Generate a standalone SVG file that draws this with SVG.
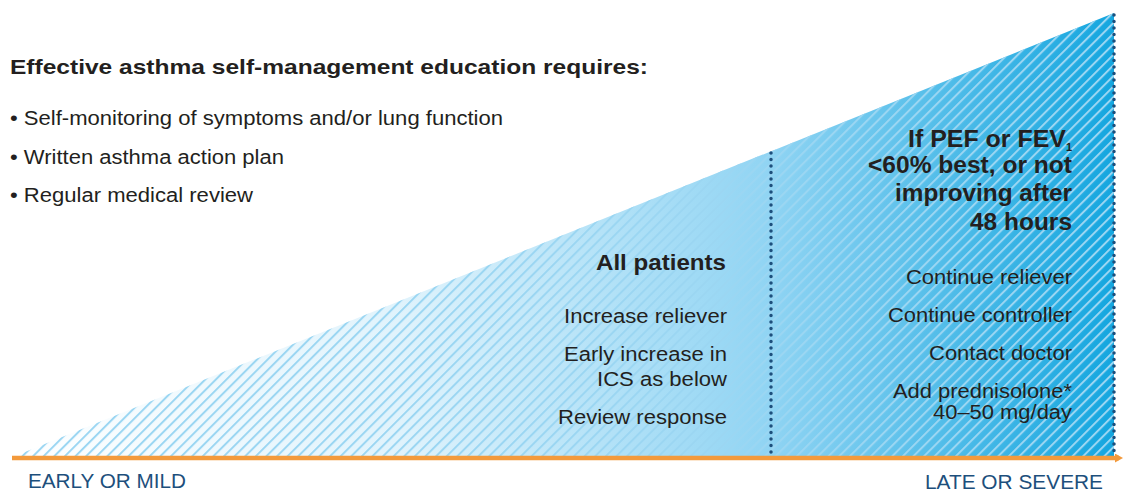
<svg xmlns="http://www.w3.org/2000/svg" width="1127" height="491" viewBox="0 0 1127 491">
<defs>
<style>
.t{font-family:"Liberation Sans",Arial,sans-serif;fill:#231f20;}
.b{font-weight:bold;}
.n{font-size:20px;}
.ax{font-family:"Liberation Sans",Arial,sans-serif;fill:#1d4f7c;font-size:20.5px;}
.dot{stroke:#1d4f7c;stroke-width:3.5;stroke-linecap:round;stroke-dasharray:0 6.5;fill:none;}
</style>
<linearGradient id="g" x1="15" y1="0" x2="1115" y2="0" gradientUnits="userSpaceOnUse">
<stop offset="0" stop-color="#ffffff"/>
<stop offset="0.35" stop-color="#e0f3fc"/>
<stop offset="0.686" stop-color="#90d4f3"/>
<stop offset="1" stop-color="#14a6df"/>
</linearGradient>
<pattern id="h" width="7.5" height="7.5" patternUnits="userSpaceOnUse" patternTransform="rotate(45)">
<line x1="1" y1="0" x2="1" y2="7.5" stroke="#9bd6f2" stroke-width="2"/>
</pattern>
<marker id="arr" markerWidth="8" markerHeight="9" refX="4" refY="4.5" orient="auto" markerUnits="userSpaceOnUse">
<path d="M0,0 L8,4.5 L0,9 Z" fill="#f39a3c"/>
</marker>
</defs>
<rect width="1127" height="491" fill="#ffffff"/>
<g id="wedge">
<path d="M15,456 L1114,13 L1114,456 Z" fill="url(#g)"/>
<path d="M15,456 L1114,13 L1114,456 Z" fill="url(#h)"/>
</g>
<g id="connectors">
<line class="dot" x1="771" y1="153" x2="771" y2="454"/>
<line class="dot" x1="1114" y1="15" x2="1114" y2="454"/>
<line x1="12" y1="458" x2="1119" y2="458" stroke="#f39a3c" stroke-width="4.5" marker-end="url(#arr)"/>
</g>
<g id="header">
<text class="t b" x="10" y="74" font-size="21" textLength="638" lengthAdjust="spacingAndGlyphs">Effective asthma self-management education requires:</text>
<text class="t" x="10" y="125" font-size="19.5" textLength="493" lengthAdjust="spacingAndGlyphs">• Self-monitoring of symptoms and/or lung function</text>
<text class="t" x="10" y="164" font-size="19.5" textLength="274" lengthAdjust="spacingAndGlyphs">• Written asthma action plan</text>
<text class="t" x="10" y="202" font-size="19.5" textLength="243" lengthAdjust="spacingAndGlyphs">• Regular medical review</text>
</g>
<g id="all-patients">
<text class="t b" x="596" y="270" font-size="22" textLength="130" lengthAdjust="spacingAndGlyphs">All patients</text>
<text class="t n" x="564" y="323" textLength="163" lengthAdjust="spacingAndGlyphs">Increase reliever</text>
<text class="t n" x="564" y="361" textLength="163" lengthAdjust="spacingAndGlyphs">Early increase in</text>
<text class="t n" x="597" y="386" textLength="130" lengthAdjust="spacingAndGlyphs">ICS as below</text>
<text class="t n" x="558" y="424" textLength="169" lengthAdjust="spacingAndGlyphs">Review response</text>
</g>
<g id="severe">
<text class="t b" x="908" y="147" font-size="23" textLength="158" lengthAdjust="spacingAndGlyphs">If PEF or FEV</text>
<text class="t b" x="1066" y="151" font-size="11">1</text>
<text class="t b" x="868" y="173" font-size="23" textLength="204" lengthAdjust="spacingAndGlyphs">&lt;60% best, or not</text>
<text class="t b" x="895" y="201" font-size="23" textLength="177" lengthAdjust="spacingAndGlyphs">improving after</text>
<text class="t b" x="970" y="230" font-size="23" textLength="102" lengthAdjust="spacingAndGlyphs">48 hours</text>
<text class="t n" x="906" y="284" textLength="166" lengthAdjust="spacingAndGlyphs">Continue reliever</text>
<text class="t n" x="888" y="322" textLength="184" lengthAdjust="spacingAndGlyphs">Continue controller</text>
<text class="t n" x="929" y="360" textLength="143" lengthAdjust="spacingAndGlyphs">Contact doctor</text>
<text class="t n" x="893" y="398" textLength="179" lengthAdjust="spacingAndGlyphs">Add prednisolone*</text>
<text class="t n" x="933" y="419" textLength="139" lengthAdjust="spacingAndGlyphs">40–50 mg/day</text>
</g>
<g id="axis-labels">
<text class="ax" x="28" y="488" textLength="158" lengthAdjust="spacingAndGlyphs">EARLY OR MILD</text>
<text class="ax" x="925" y="489" textLength="178" lengthAdjust="spacingAndGlyphs">LATE OR SEVERE</text>
</g>
</svg>
